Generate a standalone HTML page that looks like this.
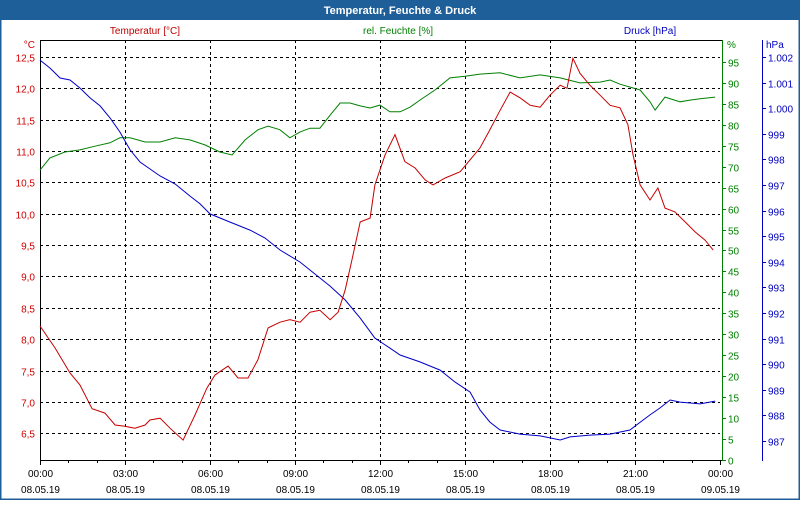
<!DOCTYPE html>
<html><head><meta charset="utf-8"><style>
html,body{margin:0;padding:0;background:#fff;}
body{width:800px;height:500px;overflow:hidden;font-family:"Liberation Sans",sans-serif;}
</style></head><body>
<svg id="chart" width="800" height="500" xmlns="http://www.w3.org/2000/svg" font-family="Liberation Sans, sans-serif" font-size="10">
<rect x="0" y="0" width="800" height="500" fill="#fff"/>
<rect x="0.5" y="0.5" width="799" height="499" fill="none" stroke="#1f5f99" stroke-width="2"/>
<rect x="0" y="0" width="800" height="20" fill="#1f5f99"/>
<text x="400" y="14" text-anchor="middle" fill="#fff" font-weight="bold" font-size="11">Temperatur, Feuchte &amp; Druck</text>
<text x="145" y="34" text-anchor="middle" fill="#c00000">Temperatur [°C]</text>
<text x="398" y="34" text-anchor="middle" fill="#008000">rel. Feuchte [%]</text>
<text x="650" y="34" text-anchor="middle" fill="#0000c0">Druck [hPa]</text>
<g id="grid"></g><g id="axes"></g><g id="series"></g>
</svg>
<script>
const tempTimes=[0,0.53,1.06,1.41,1.84,2.29,2.65,3.0,3.35,3.71,3.88,4.24,4.59,5.05,5.47,5.89,6.18,6.64,6.99,7.34,7.69,8.05,8.47,8.82,9.18,9.53,9.88,10.24,10.52,10.77,11.01,11.3,11.65,11.82,12.18,12.53,12.88,13.24,13.59,13.87,14.3,14.83,15.18,15.53,15.88,16.24,16.59,16.94,17.3,17.65,18.0,18.36,18.6,18.81,19.06,19.41,19.77,20.12,20.47,20.75,20.93,21.18,21.53,21.81,22.06,22.41,22.77,23.12,23.47,23.76];
const tempValues=[8.21,7.86,7.46,7.27,6.89,6.82,6.63,6.61,6.58,6.63,6.71,6.74,6.58,6.39,6.79,7.22,7.43,7.57,7.38,7.38,7.67,8.18,8.27,8.31,8.27,8.43,8.46,8.31,8.43,8.78,9.26,9.87,9.93,10.46,10.94,11.26,10.83,10.73,10.54,10.46,10.57,10.67,10.86,11.05,11.34,11.65,11.94,11.85,11.73,11.70,11.89,12.05,12.0,12.48,12.24,12.05,11.89,11.73,11.69,11.42,10.94,10.46,10.22,10.41,10.09,10.03,9.87,9.71,9.58,9.42];
const humTimes=[0,0.35,0.88,1.41,1.94,2.47,2.82,3.18,3.71,4.24,4.77,5.29,5.82,6.35,6.78,7.24,7.69,8.05,8.47,8.82,9.18,9.53,9.88,10.24,10.59,10.94,11.3,11.65,12.0,12.35,12.71,13.06,13.41,13.94,14.47,15.0,15.53,16.24,16.94,17.65,18.36,19.06,19.77,20.12,20.47,21.18,21.53,21.71,22.06,22.59,22.94,23.3,23.83];
const humValues=[69.2,72.1,73.5,74.0,74.9,75.7,76.9,76.9,75.9,75.9,76.9,76.4,75.2,73.5,72.8,76.4,78.8,79.7,78.8,76.9,78.3,79.2,79.2,82.3,85.2,85.2,84.5,84.0,84.7,83.1,83.1,84.2,85.9,88.3,91.2,91.6,92.1,92.4,91.2,91.9,91.2,90.0,90.2,90.7,89.7,88.3,85.5,83.5,86.6,85.5,85.9,86.2,86.6];
const presTimes=[0,0.35,0.71,1.06,1.41,1.77,2.12,2.47,2.82,3.18,3.53,4.24,4.77,5.29,5.65,6.0,6.71,7.41,7.94,8.47,9.18,9.71,10.24,10.77,11.3,11.82,12.35,12.71,13.41,14.12,14.65,15.18,15.53,15.88,16.24,16.94,17.65,18.0,18.36,18.71,19.41,20.12,20.82,21.53,21.88,22.24,22.59,23.3,23.83];
const presValues=[1001.88,1001.57,1001.18,1001.1,1000.79,1000.4,1000.09,999.62,999.07,998.37,997.9,997.35,997.04,996.57,996.26,995.87,995.55,995.24,994.93,994.46,993.99,993.52,993.05,992.51,991.8,991.02,990.63,990.36,990.09,989.77,989.3,988.91,988.21,987.74,987.43,987.27,987.2,987.12,987.04,987.16,987.23,987.27,987.43,988.02,988.29,988.6,988.52,988.45,988.56];
const tempTicks=[6.5,7.0,7.5,8.0,8.5,9.0,9.5,10.0,10.5,11.0,11.5,12.0,12.5];
const humTicks=[0,5,10,15,20,25,30,35,40,45,50,55,60,65,70,75,80,85,90,95];
const presTicks=[987,988,989,990,991,992,993,994,995,996,997,998,999,1000,1001,1002];
const timeTicks=[0,3,6,9,12,15,18,21,24];
const timeLabels=["00:00","03:00","06:00","09:00","12:00","15:00","18:00","21:00","00:00"];
const dateLabels=["08.05.19","08.05.19","08.05.19","08.05.19","08.05.19","08.05.19","08.05.19","08.05.19","09.05.19"];

const X0=40,X1=720,YT=40,YB=460;
const xs=h=>X0+h*(X1-X0)/24;
const yT=t=>57+(12.5-t)*62.7;
const yH=v=>460-v*4.19;
const yP=p=>57+(1002-p)*25.6;
const NS="http://www.w3.org/2000/svg";
function mk(tag,attrs,parent,txt){const e=document.createElementNS(NS,tag);for(const k in attrs)e.setAttribute(k,attrs[k]);if(txt!==undefined)e.textContent=txt;parent.appendChild(e);return e;}
const grid=document.getElementById('grid'),axes=document.getElementById('axes'),ser=document.getElementById('series');

tempTicks.forEach(t=>{const y=Math.round(yT(t))+0.5;
 const l=mk('line',{x1:X0,x2:X1,y1:y,y2:y,stroke:'#000','stroke-dasharray':'3,3'},grid);
 
 
 const tx=mk('text',{x:35,y:y+4,'text-anchor':'end',fill:'#d00000'},axes,t.toFixed(1).replace('.',','));
 
 
});
timeTicks.forEach((h,i)=>{const x=Math.round(xs(h))+0.5;
 if(i>0&&i<8){const l=mk('line',{x1:x,x2:x,y1:YT,y2:YB,stroke:'#000','stroke-dasharray':'3,3'},grid);
 
 }
 const a=mk('text',{x:x,y:477,'text-anchor':'middle',fill:'#000'},axes,timeLabels[i]);
 
 
 const b=mk('text',{x:x,y:493,'text-anchor':'middle',fill:'#000'},axes,dateLabels[i]);
 
 
});
for(let h=0;h<=24;h++){const x=Math.round(xs(h))+0.5;
 const l=mk('line',{x1:x,x2:x,y1:YB,y2:YB+(h%3?3:5),stroke:'#000'},axes);
 
 }
let f;
f=mk('path',{d:`M${X0+0.5},${YT} V${YB+0.5} H${X1+2} M${X0},${YT+0.5} H${X1+2}`,stroke:'#000',fill:'none'},axes);


f=mk('text',{x:35,y:48,'text-anchor':'end',fill:'#d00000'},axes,'°C');


// humidity axis
f=mk('line',{x1:722.5,x2:722.5,y1:YT,y2:YB+1,stroke:'#008000'},axes);


f=mk('text',{x:727,y:48,fill:'#008000'},axes,'%');


humTicks.forEach(v=>{const y=Math.round(yH(v))+0.5;
 const l=mk('line',{x1:722,x2:726,y1:y,y2:y,stroke:'#008000'},axes);
 
 
 const t=mk('text',{x:728,y:y+4,fill:'#008000'},axes,String(v));
 
 
});
// pressure axis
f=mk('line',{x1:762.5,x2:762.5,y1:YT,y2:YB+1,stroke:'#0000c0'},axes);


f=mk('text',{x:766,y:48,fill:'#0000c0'},axes,'hPa');


presTicks.forEach(v=>{const y=Math.round(yP(v))+0.5;
 const l=mk('line',{x1:762,x2:766,y1:y,y2:y,stroke:'#0000c0'},axes);
 
 
 const s=v>=1000?'1.'+String(v).slice(1):String(v);
 const t=mk('text',{x:768,y:y+4,fill:'#0000c0'},axes,s);
 
 
});
function line(ts,vs,yf,col,name){const d=ts.map((h,i)=>(i?'L':'M')+xs(h).toFixed(1)+','+yf(vs[i]).toFixed(1)).join(' ');
 const p=mk('path',{d:d,stroke:col,fill:'none','stroke-width':1},ser);
 
 }
line(humTimes,humValues,yH,'#008000','humidity-line');
line(presTimes,presValues,yP,'#0000c8','pressure-line');
line(tempTimes,tempValues,yT,'#c80000','temperature-line');
</script>
</body></html>
